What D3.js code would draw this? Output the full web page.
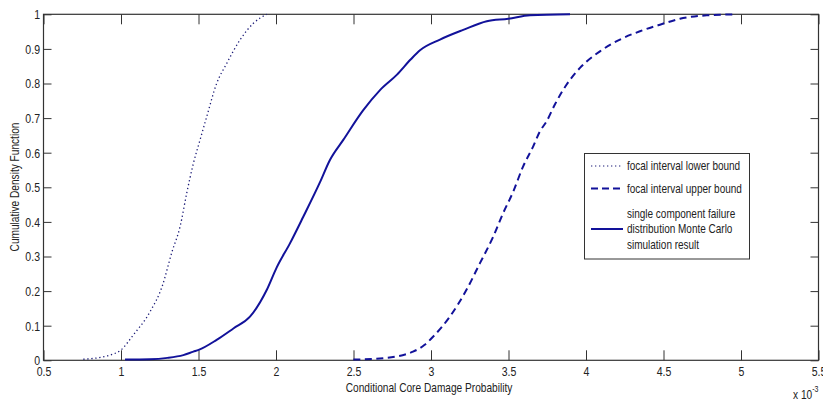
<!DOCTYPE html>
<html><head><meta charset="utf-8">
<script src="https://cdn.jsdelivr.net/npm/d3@7"></script>
<style>
body{margin:0;background:#fff;}
text{font-family:"Liberation Sans",Arial,sans-serif;fill:#222;}
</style></head>
<body><svg id="c" width="823" height="401"></svg>
<script>
// values in units of 1e-3
const lowerX = [0.757,0.886,0.929,1.0,1.079,1.187,1.265,1.33,1.381,1.424,1.467,1.510,1.553,1.617,1.682,1.768,1.854,1.94];
const lowerY = [0.003,0.010,0.015,0.030,0.073,0.140,0.213,0.315,0.386,0.483,0.569,0.637,0.704,0.800,0.858,0.926,0.974,1.0];

const upperX = [2.499,2.692,2.884,2.957,3.013,3.121,3.228,3.315,3.401,3.465,3.53,3.594,3.658,3.703,3.745,3.80,3.875,3.961,4.09,4.219,4.348,4.477,4.606,4.779,4.972];
const upperY = [0.002,0.006,0.025,0.044,0.068,0.126,0.203,0.280,0.357,0.425,0.487,0.560,0.617,0.662,0.690,0.740,0.797,0.845,0.893,0.927,0.951,0.970,0.987,0.997,1.0];

const mcX = [1.026,1.187,1.30,1.402,1.467,1.501,1.617,1.725,1.832,1.94,2.004,2.09,2.176,2.284,2.348,2.434,2.563,2.671,2.779,2.870,2.929,3.058,3.208,3.36,3.499,3.639,3.897];
const mcY = [0.002,0.003,0.007,0.015,0.025,0.030,0.059,0.092,0.126,0.203,0.268,0.338,0.415,0.515,0.579,0.637,0.723,0.781,0.825,0.870,0.896,0.927,0.955,0.980,0.987,0.997,1.0];

const xTicks = [0.5,1,1.5,2,2.5,3,3.5,4,4.5,5,5.5];
const yTicks = [0,0.1,0.2,0.3,0.4,0.5,0.6,0.7,0.8,0.9,1];
const legendLabels = [["focal interval lower bound"],["focal interval upper bound"],["single component failure","distribution Monte Carlo","simulation result"]];

const svg = d3.select("#c");
const L=43.5, R=818.5, T=14.3, B=360.3;
const x = d3.scaleLinear().domain([0.5,5.5]).range([L,R]);
const y = d3.scaleLinear().domain([0,1]).range([B,T]);
const col = "#12129a";
const SX = 0.78;

function addText(parent, tx, ty, str, size, anchor, sx, rot){
  return parent.append("text")
    .attr("transform",`translate(${tx},${ty})${rot?` rotate(${rot})`:""} scale(${sx},1)`)
    .attr("font-size",size).attr("text-anchor",anchor||"start").text(str);
}

// box
svg.append("rect").attr("x",L).attr("y",T).attr("width",R-L).attr("height",B-T)
  .attr("fill","none").attr("stroke","#333").attr("stroke-width",1.2);

const fmt = d => String(d);
const xb = d3.axisBottom(x).tickValues(xTicks).tickFormat(fmt).tickSizeInner(-10).tickSizeOuter(0).tickPadding(6.5);
const gx = svg.append("g").attr("transform",`translate(0,${B})`).call(xb);
gx.select(".domain").remove();
gx.selectAll("line").attr("stroke","#333");
gx.selectAll("text").attr("font-size",13.5).attr("font-family","Liberation Sans, Arial, sans-serif")
  .attr("fill","#222").attr("transform",`scale(${SX},1)`);
const xt = d3.axisTop(x).tickValues(xTicks).tickFormat("").tickSizeInner(-10).tickSizeOuter(0);
const gxt = svg.append("g").attr("transform",`translate(0,${T})`).call(xt);
gxt.select(".domain").remove(); gxt.selectAll("line").attr("stroke","#333");

const yl = d3.axisLeft(y).tickValues(yTicks).tickFormat(fmt).tickSizeInner(-8).tickSizeOuter(0).tickPadding(4.5);
const gy = svg.append("g").attr("transform",`translate(${L},0)`).call(yl);
gy.select(".domain").remove(); gy.selectAll("line").attr("stroke","#333");
gy.selectAll("text").attr("font-size",13.5).attr("font-family","Liberation Sans, Arial, sans-serif")
  .attr("fill","#222").attr("transform",`scale(${SX},1)`);
const yr = d3.axisRight(y).tickValues(yTicks).tickFormat("").tickSizeInner(-8).tickSizeOuter(0);
const gyr = svg.append("g").attr("transform",`translate(${R},0)`).call(yr);
gyr.select(".domain").remove(); gyr.selectAll("line").attr("stroke","#333");

// lines
const line = d3.line().x(d=>x(d[0])).y(d=>y(d[1])).curve(d3.curveMonotoneX);
svg.append("path").datum(d3.zip(lowerX,lowerY)).attr("d",line).attr("fill","none")
  .attr("stroke","#1c1c78").attr("stroke-width",1.3).attr("stroke-dasharray","1.3,2.7");
svg.append("path").datum(d3.zip(upperX,upperY)).attr("d",line).attr("fill","none")
  .attr("stroke",col).attr("stroke-width",2).attr("stroke-dasharray","7,4.5");
svg.append("path").datum(d3.zip(mcX,mcY)).attr("d",line).attr("fill","none")
  .attr("stroke",col).attr("stroke-width",2);

// labels
addText(svg, 429, 392, "Conditional Core Damage Probability", 13, "middle", SX);
addText(svg, 19, 187, "Cumulative Density Function", 13, "middle", SX, -90);
const ex = svg.append("text").attr("transform",`translate(793,399) scale(${SX},1)`).attr("font-size",13);
ex.append("tspan").text("x 10");
ex.append("tspan").attr("dy",-7).attr("font-size",9).text("-3");

// legend
const lg = svg.append("g");
lg.append("rect").attr("x",584.5).attr("y",153.5).attr("width",165).attr("height",105.5)
  .attr("fill","#fff").attr("stroke","#333").attr("stroke-width",1);
const rows = [166,188.5,229];
const styles = [
  {c:"#1c1c78",w:1.2,d:"1.3,2.7"},
  {c:col,w:2,d:"7,4"},
  {c:col,w:2,d:null}];
rows.forEach((ry,i)=>{
  const ln = lg.append("line").attr("x1",591).attr("x2",623).attr("y1",ry).attr("y2",ry)
    .attr("stroke",styles[i].c).attr("stroke-width",styles[i].w);
  if(styles[i].d) ln.attr("stroke-dasharray",styles[i].d);
  const labs = legendLabels[i];
  labs.forEach((t,j)=>{
    addText(lg, 627, ry + (j-(labs.length-1)/2)*15.8, t, 12.5, "start", 0.8).attr("dy","0.35em");
  });
});
</script></body></html>
